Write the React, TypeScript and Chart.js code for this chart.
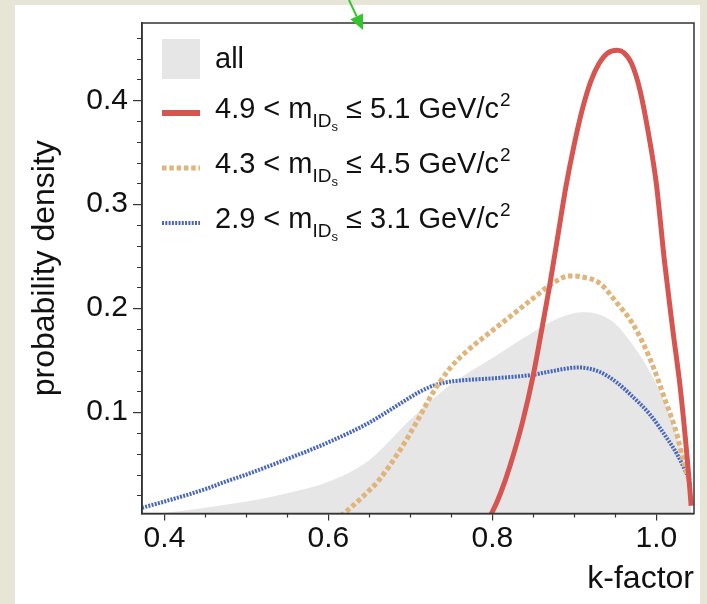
import React, { useEffect, useRef } from "react";
import { Chart, registerables } from "chart.js";

Chart.register(...registerables);

const FONT = "'Liberation Sans', Arial, Helvetica, sans-serif";

// k-factor grid and density for the whole sample
const kAll = [0.3726, 0.4, 0.45, 0.5, 0.55, 0.6, 0.65, 0.7, 0.75, 0.8, 0.85, 0.88, 0.91, 0.93, 0.95, 0.97, 0.99, 1.01, 1.03, 1.04, 1.043];
const densAll = [0.001, 0.003, 0.008, 0.014, 0.022, 0.033, 0.054, 0.093, 0.127, 0.152, 0.177, 0.19, 0.196, 0.194, 0.185, 0.166, 0.142, 0.11, 0.066, 0.038, 0.0];

// 4.9 < m <= 5.1 GeV/c^2
const kHigh = [0.797, 0.8, 0.81, 0.821, 0.837, 0.85, 0.862, 0.87, 0.88, 0.89, 0.9, 0.91, 0.92, 0.93, 0.94, 0.952, 0.96, 0.97, 0.98, 0.99, 1.0, 1.01, 1.02, 1.03, 1.04, 1.0425];
const densHigh = [0.0, 0.004, 0.022, 0.047, 0.091, 0.136, 0.187, 0.222, 0.27, 0.318, 0.358, 0.392, 0.418, 0.435, 0.445, 0.448, 0.446, 0.435, 0.41, 0.37, 0.32, 0.245, 0.18, 0.118, 0.035, 0.01];

// 4.3 < m <= 4.5 GeV/c^2
const kMid = [0.615, 0.63, 0.645, 0.661, 0.687, 0.708, 0.727, 0.748, 0.768, 0.809, 0.849, 0.87, 0.894, 0.91, 0.931, 0.951, 0.972, 0.992, 1.0125, 1.025, 1.033, 1.041];
const densMid = [0.0, 0.01, 0.021, 0.034, 0.063, 0.091, 0.118, 0.142, 0.158, 0.184, 0.209, 0.222, 0.231, 0.23, 0.224, 0.206, 0.184, 0.152, 0.108, 0.079, 0.053, 0.031];

// 2.9 < m <= 3.1 GeV/c^2
const kLow = [0.3726, 0.4, 0.45, 0.4775, 0.5, 0.55, 0.6, 0.65, 0.687, 0.71, 0.73, 0.75, 0.77, 0.81, 0.85, 0.87, 0.905, 0.93, 0.951, 0.971, 0.992, 1.0125, 1.025, 1.037, 1.041];
const densLow = [0.008, 0.014, 0.026, 0.034, 0.04, 0.055, 0.071, 0.09, 0.108, 0.119, 0.126, 0.1295, 0.131, 0.133, 0.136, 0.139, 0.143, 0.139, 0.129, 0.115, 0.098, 0.0755, 0.06, 0.041, 0.034];

const xMajorTicks = [0.4, 0.6, 0.8, 1.0];
const xMinorTicks = [0.45, 0.5, 0.55, 0.65, 0.7, 0.75, 0.85, 0.9, 0.95];
const yMajorTicks = [0.1, 0.2, 0.3, 0.4];
const yMinorTicks = [0.02, 0.04, 0.06, 0.08, 0.12, 0.14, 0.16, 0.18, 0.22, 0.24, 0.26, 0.28, 0.32, 0.34, 0.36, 0.38, 0.42, 0.44, 0.46];

const seriesRanges = [
  ["4.9", "5.1"],
  ["4.3", "4.5"],
  ["2.9", "3.1"],
];

const COLORS = {
  all: "#e6e6e6",
  high: "#d65551",
  mid: "#e0b47a",
  low: "#4766bd",
  frame: "#333333",
  text: "#111111",
};

const toPoints = (xs: number[], ys: number[]) => xs.map((x, i) => ({ x, y: ys[i] }));

// "lo < m_{ID_s} <= hi GeV/c^2" drawn with sub/superscripts
function drawMassLabel(ctx: CanvasRenderingContext2D, x: number, base: number, lo: string, hi: string, size: number) {
  const main = `${size}px ${FONT}`;
  const sub = `${Math.round(size * 0.64)}px ${FONT}`;
  const subsub = `${Math.round(size * 0.46)}px ${FONT}`;
  ctx.textAlign = "left";
  ctx.textBaseline = "alphabetic";
  ctx.font = main;
  let t = `${lo} < m`;
  ctx.fillText(t, x, base);
  x += ctx.measureText(t).width;
  ctx.font = sub;
  ctx.fillText("ID", x, base + size * 0.3);
  x += ctx.measureText("ID").width;
  ctx.font = subsub;
  ctx.fillText("s", x, base + size * 0.46);
  x += ctx.measureText("s").width;
  ctx.font = main;
  t = ` \u2264 ${hi} GeV/c`;
  ctx.fillText(t, x, base);
  x += ctx.measureText(t).width;
  ctx.font = sub;
  ctx.fillText("2", x + 1, base - size * 0.4);
}

const decorPlugin = {
  id: "decor",
  afterDraw(chart: any) {
    const { ctx, chartArea: a, scales } = chart;
    const xs = scales.x;
    const ys = scales.y;
    ctx.save();
    // frame
    ctx.strokeStyle = COLORS.frame;
    ctx.lineWidth = 1.5;
    ctx.strokeRect(a.left, a.top, a.right - a.left, a.bottom - a.top);
    // minor ticks
    ctx.lineWidth = 1.2;
    ctx.beginPath();
    for (const v of xMinorTicks) {
      const px = Math.round(xs.getPixelForValue(v)) + 0.5;
      ctx.moveTo(px, a.bottom);
      ctx.lineTo(px, a.bottom + 4);
    }
    for (const v of yMinorTicks) {
      const py = Math.round(ys.getPixelForValue(v)) + 0.5;
      ctx.moveTo(a.left - 5, py);
      ctx.lineTo(a.left, py);
    }
    ctx.stroke();

    // legend
    const lx = a.left + 20;
    const sw = 38;
    const tx = a.left + 73;
    ctx.fillStyle = COLORS.all;
    ctx.fillRect(lx, a.top + 16, sw, 40);
    ctx.fillStyle = COLORS.text;
    ctx.font = `29px ${FONT}`;
    ctx.textBaseline = "alphabetic";
    ctx.fillText("all", tx, a.top + 45);

    const rowY = [a.top + 90, a.top + 145, a.top + 200];
    const styles = [
      { color: COLORS.high, width: 6, dash: [] as number[] },
      { color: COLORS.mid, width: 5, dash: [4.5, 2.8] },
      { color: COLORS.low, width: 4, dash: [2, 1.3] },
    ];
    seriesRanges.forEach(([lo, hi], i) => {
      const s = styles[i];
      ctx.strokeStyle = s.color;
      ctx.lineWidth = s.width;
      ctx.setLineDash(s.dash);
      ctx.lineCap = "butt";
      ctx.beginPath();
      ctx.moveTo(lx, rowY[i]);
      ctx.lineTo(lx + sw, rowY[i]);
      ctx.stroke();
      ctx.setLineDash([]);
      ctx.fillStyle = COLORS.text;
      drawMassLabel(ctx, tx, rowY[i] + 5, lo, hi, 29);
    });

    // green pointer above the frame
    const tip = { x: 363, y: a.top + 7 };
    const tail = { x: 349, y: 0 };
    const dx = tip.x - tail.x;
    const dy = tip.y - tail.y;
    const len = Math.hypot(dx, dy);
    const ux = dx / len;
    const uy = dy / len;
    const bx = tip.x - ux * 15;
    const by = tip.y - uy * 15;
    ctx.strokeStyle = "#33c52e";
    ctx.fillStyle = "#33c52e";
    ctx.lineWidth = 2;
    ctx.beginPath();
    ctx.moveTo(tail.x, tail.y);
    ctx.lineTo(bx, by);
    ctx.stroke();
    ctx.beginPath();
    ctx.moveTo(tip.x, tip.y);
    ctx.lineTo(bx - uy * 7, by + ux * 7);
    ctx.lineTo(bx + uy * 7, by - ux * 7);
    ctx.closePath();
    ctx.fill();
    ctx.restore();
  },
};

export default function App() {
  const canvasRef = useRef<HTMLCanvasElement | null>(null);

  useEffect(() => {
    const canvas = canvasRef.current;
    if (!canvas) return;
    const chart = new Chart(canvas, {
      type: "line",
      data: {
        datasets: [
          {
            label: "all",
            data: toPoints(kAll, densAll),
            borderWidth: 0,
            borderColor: COLORS.all,
            backgroundColor: COLORS.all,
            fill: "start",
            pointRadius: 0,
            cubicInterpolationMode: "monotone",
            order: 4,
          },
          {
            label: "2.9-3.1",
            data: toPoints(kLow, densLow),
            borderColor: COLORS.low,
            borderWidth: 4,
            borderDash: [2, 1.3],
            fill: false,
            pointRadius: 0,
            cubicInterpolationMode: "monotone",
            order: 3,
          },
          {
            label: "4.3-4.5",
            data: toPoints(kMid, densMid),
            borderColor: COLORS.mid,
            borderWidth: 5,
            borderDash: [4.5, 2.8],
            fill: false,
            pointRadius: 0,
            cubicInterpolationMode: "monotone",
            order: 2,
          },
          {
            label: "4.9-5.1",
            data: toPoints(kHigh, densHigh),
            borderColor: COLORS.high,
            borderWidth: 5,
            fill: false,
            pointRadius: 0,
            cubicInterpolationMode: "monotone",
            order: 1,
          },
        ],
      },
      options: {
        animation: false,
        responsive: false,
        events: [],
        layout: { padding: { top: 18, right: 13, left: 0, bottom: 0 } },
        plugins: { legend: { display: false }, tooltip: { enabled: false } },
        scales: {
          x: {
            type: "linear",
            min: 0.3726,
            max: 1.046,
            afterFit: (s: any) => {
              s.height = 90.5;
            },
            afterBuildTicks: (s: any) => {
              s.ticks = xMajorTicks.map((value) => ({ value }));
            },
            ticks: {
              color: COLORS.text,
              font: { family: FONT, size: 30 },
              padding: 0,
              maxRotation: 0,
              callback: (v: any) => Number(v).toFixed(1),
            },
            grid: { drawOnChartArea: false, drawTicks: true, tickLength: 7, color: COLORS.frame, lineWidth: 1.2 },
            border: { display: true, color: COLORS.frame, width: 1.5 },
            title: {
              display: true,
              text: "k-factor",
              align: "end",
              color: COLORS.text,
              font: { family: FONT, size: 32 },
              padding: { top: 0, bottom: 6 },
            },
          },
          y: {
            type: "linear",
            min: 0.0025,
            max: 0.4743,
            afterFit: (s: any) => {
              s.width = 142;
            },
            afterBuildTicks: (s: any) => {
              s.ticks = yMajorTicks.map((value) => ({ value }));
            },
            ticks: {
              color: COLORS.text,
              font: { family: FONT, size: 30 },
              padding: 5,
              callback: (v: any) => Number(v).toFixed(1),
            },
            grid: { drawOnChartArea: false, drawTicks: true, tickLength: 9, color: COLORS.frame, lineWidth: 1.2 },
            border: { display: true, color: COLORS.frame, width: 1.5 },
            title: {
              display: true,
              text: "probability density",
              color: COLORS.text,
              font: { family: FONT, size: 32 },
              padding: { top: 26, bottom: 0 },
            },
          },
        },
      },
      plugins: [decorPlugin],
    } as any);
    return () => chart.destroy();
  }, []);

  return (
    <div
      style={{
        position: "fixed",
        left: 0,
        top: 0,
        width: 707,
        height: 604,
        background: "#e7e5d6",
        overflow: "hidden",
      }}
    >
      <div style={{ position: "absolute", left: 15, top: 5, width: 685, height: 599, background: "#ffffff" }} />
      <canvas ref={canvasRef} width={707} height={604} style={{ position: "absolute", left: 0, top: 0 }} />
    </div>
  );
}
